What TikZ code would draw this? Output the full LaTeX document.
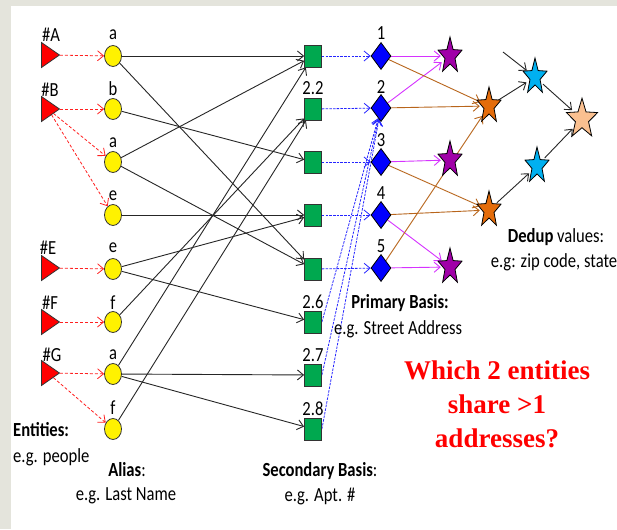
\documentclass[tikz,border=0pt]{standalone}
\usepackage{fontspec}
\setmainfont{Carlito}[FakeStretch=0.83]
\newfontfamily\timesf{Liberation Serif}
\usetikzlibrary{shapes.geometric,arrows.meta,backgrounds}
\definecolor{bgray}{HTML}{E4E4DC}
\definecolor{sqgreen}{HTML}{00A84F}
\definecolor{dblue}{HTML}{0000FF}
\definecolor{starpurple}{HTML}{A000A8}
\definecolor{starorange}{HTML}{E46C0A}
\definecolor{starblue}{HTML}{00B0F0}
\definecolor{starpeach}{HTML}{FAC090}
\definecolor{magline}{HTML}{D633FF}
\definecolor{brownline}{HTML}{B8651B}
\definecolor{dashred}{HTML}{FF2020}
\definecolor{dashblue}{HTML}{2525FF}
\tikzset{
  ent/.style={isosceles triangle, isosceles triangle apex angle=72, isosceles triangle stretches,
    fill=red, draw=black!80, line width=0.8pt, minimum width=25, minimum height=18, inner sep=0},
  aliasnode/.style={ellipse, fill=yellow, draw=black!80, line width=0.8pt, minimum width=17, minimum height=21, inner sep=0},
  secnode/.style={rectangle, fill=sqgreen, draw=black!80, line width=0.8pt, minimum width=17, minimum height=22, inner sep=0},
  primnode/.style={diamond, fill=dblue, draw=black, line width=0.8pt, minimum width=20, minimum height=27, inner sep=0},
  starhit/.style={ellipse, minimum width=18, minimum height=28, inner sep=0},
  tipped/.style={-{Straight Barb[length=6pt,width=10pt]}},
  redarr/.style={tipped, draw=dashred, line width=0.8pt, dash pattern=on 3pt off 2pt},
  blackarr/.style={tipped, draw=black!85, line width=0.9pt},
  bluearr/.style={tipped, draw=dashblue, line width=0.8pt, dash pattern=on 2.5pt off 1.2pt},
  magarr/.style={tipped, draw=magline, line width=0.9pt},
  brownarr/.style={tipped, draw=brownline, line width=0.9pt},
  lbl/.style={inner sep=0},
  pics/mystar/.style={code={
    \draw[fill=#1, draw=black, line width=0.8pt, yscale=1.5]
      (-90:12.6) -- (-54:5.3) -- (-18:12.6) -- (18:5.3) -- (54:12.6) -- (90:5.3)
      -- (126:12.6) -- (162:5.3) -- (198:12.6) -- (234:5.3) -- cycle;}}
}
\begin{document}
\begin{tikzpicture}[x=1pt,y=-1pt,font=\fontsize{20}{23}\selectfont]
\useasboundingbox (0,0) rectangle (617,529);
% nodes: entities
\node[ent] (eA) at (48,55) {};
\node[ent] (eB) at (48,109) {};
\node[ent] (eE) at (48,268) {};
\node[ent] (eF) at (48,322) {};
\node[ent] (eG) at (48,373) {};
\node[lbl] (tA) at (51,35) {\#A};
\node[lbl] (tB) at (50,90) {\#B};
\node[lbl] (tE) at (48,248) {\#E};
\node[lbl] (tF) at (50,303) {\#F};
\node[lbl] (tG) at (52,355) {\#G};
% alias
\node[aliasnode] (al1) at (113,56) {};
\node[aliasnode] (al2) at (113,109) {};
\node[aliasnode] (al3) at (113,162) {};
\node[aliasnode] (al4) at (113,215) {};
\node[aliasnode] (al5) at (113,269) {};
\node[aliasnode] (al6) at (113,322) {};
\node[aliasnode] (al7) at (113,374) {};
\node[aliasnode] (al8) at (113,429) {};
\node[lbl] (ta1) at (113,35) {a};
\node[lbl] (ta2) at (113,89) {b};
\node[lbl] (ta3) at (113,143) {a};
\node[lbl] (ta4) at (113,196) {e};
\node[lbl] (ta5) at (113,248) {e};
\node[lbl] (ta6) at (113,303) {f};
\node[lbl] (ta7) at (113,355) {a};
\node[lbl] (ta8) at (113,408) {f};
% secondary
\node[secnode] (s1) at (313,56) {};
\node[secnode] (s2) at (313,109) {};
\node[secnode] (s3) at (313,162) {};
\node[secnode] (s4) at (313,215) {};
\node[secnode] (s5) at (313,269) {};
\node[secnode] (s6) at (313,322) {};
\node[secnode] (s7) at (313,375) {};
\node[secnode] (s8) at (313,429) {};
\node[lbl] (ts2) at (313,88) {2.2};
\node[lbl] (ts6) at (313,302) {2.6};
\node[lbl] (ts7) at (313,355) {2.7};
\node[lbl] (ts8) at (313,409) {2.8};
% primary
\node[primnode] (d1) at (381,56) {};
\node[primnode] (d2) at (381,108) {};
\node[primnode] (d3) at (381,162) {};
\node[primnode] (d4) at (381,215) {};
\node[primnode] (d5) at (381,268) {};
\node[lbl] (td1) at (381,33) {1};
\node[lbl] (td2) at (381,87) {2};
\node[lbl] (td3) at (381,140) {3};
\node[lbl] (td4) at (381,193) {4};
\node[lbl] (td5) at (381,246) {5};
% stars
\node[starhit] (p1) at (450,56) {};
\node[starhit] (p2) at (450,160) {};
\node[starhit] (p3) at (450,267) {};
\node[starhit] (o1) at (489,106) {};
\node[starhit] (o2) at (489,210) {};
\node[starhit] (b1) at (535,77) {};
\node[starhit] (b2) at (537,166) {};
\node[starhit, minimum width=24, minimum height=30] (pk) at (582,119) {};
\coordinate (bs) at (503,52);
% texts
\node[lbl, anchor=west] (t1) at (13,430) {\bfseries Entities:};
\node[lbl, anchor=west] (t2) at (13,457) {e.g. people};
\node[lbl] (t3) at (127,470) {\textbf{Alias}:};
\node[lbl] (t4) at (126,496) {e.g. Last Name};
\node[lbl] (t5) at (320,471) {\textbf{Secondary Basis}:};
\node[lbl] (t6) at (320,496) {e.g. Apt. \#};
\node[lbl] (t7) at (400,303) {\bfseries Primary Basis:};
\node[lbl] (t8) at (398,329) {e.g. Street Address};
\node[lbl] (t9) at (556,237) {\textbf{Dedup} values:};
\node[lbl] (t10) at (554,262) {e.g: zip code, state};
\node[lbl, align=center, text=red, font=\timesf\bfseries\fontsize{27}{34}\selectfont] (q) at (497,404)
  {Which 2 entities\\share >1\\addresses?};
% edges
\begin{pgfonlayer}{background}
\fill[bgray] (0,0) rectangle (617,529);
\fill[white] (11,6) rectangle (617,529);
\draw[redarr] (eA) -- (al1);
\draw[redarr] (eB) -- (al2);
\draw[redarr] (eB) -- (al3);
\draw[redarr] (eB) -- (al4);
\draw[redarr] (eE) -- (al5);
\draw[redarr] (eF) -- (al6);
\draw[redarr] (eG) -- (al7);
\draw[redarr] (eG) -- (al8);
\draw[blackarr] (al1) -- (s1);
\draw[blackarr] (al1) -- (s5);
\draw[blackarr] (al2) -- (s3);
\draw[blackarr] (al3) -- (s1);
\draw[blackarr] (al3) -- (s5);
\draw[blackarr] (al4) -- (s4);
\draw[blackarr] (al5) -- (s4);
\draw[blackarr] (al5) -- (s6);
\draw[blackarr] (al6) -- (s2);
\draw[blackarr] (al7) -- (s1);
\draw[blackarr] (al7) -- (s7);
\draw[blackarr] (al7) -- (s8);
\draw[blackarr] (al8) -- (s2);
\draw[bluearr] (s1) -- (d1);
\draw[bluearr] (s2) -- (d2);
\draw[bluearr] (s3) -- (d3);
\draw[bluearr] (s4) -- (d4);
\draw[bluearr] (s5) -- (d5);
\draw[bluearr] (s6.east) -- (d2);
\draw[bluearr] (s7.east) -- (d2);
\draw[bluearr] (s8.east) -- (d2);
\draw[magarr] (d1) -- (p1);
\draw[magarr] (d2) -- (p1);
\draw[magarr] (d3) -- (p2);
\draw[magarr] (d4) -- (p3);
\draw[magarr] (d5) -- (p3);
\draw[brownarr] (d1) -- (o1);
\draw[brownarr] (d2) -- (o1);
\draw[brownarr] (d3) -- (o2);
\draw[brownarr] (d4) -- (o2);
\draw[brownarr] (d5) -- (o1);
\draw[blackarr] (o1) -- (b1);
\draw[blackarr] (o2) -- (b2);
\draw[blackarr] (b1) -- (pk);
\draw[blackarr] (b2) -- (pk);
\draw[blackarr] (bs) -- (b1);
\end{pgfonlayer}
% star drawings
\pic at (p1) {mystar=starpurple};
\pic at (p2) {mystar=starpurple};
\pic at (p3) {mystar=starpurple};
\pic at (o1) {mystar=starorange};
\pic at (o2) {mystar=starorange};
\pic at (b1) {mystar=starblue};
\pic at (b2) {mystar=starblue};
\pic[xscale=1.3, yscale=1.1] at (pk) {mystar=starpeach};
\end{tikzpicture}
\end{document}
